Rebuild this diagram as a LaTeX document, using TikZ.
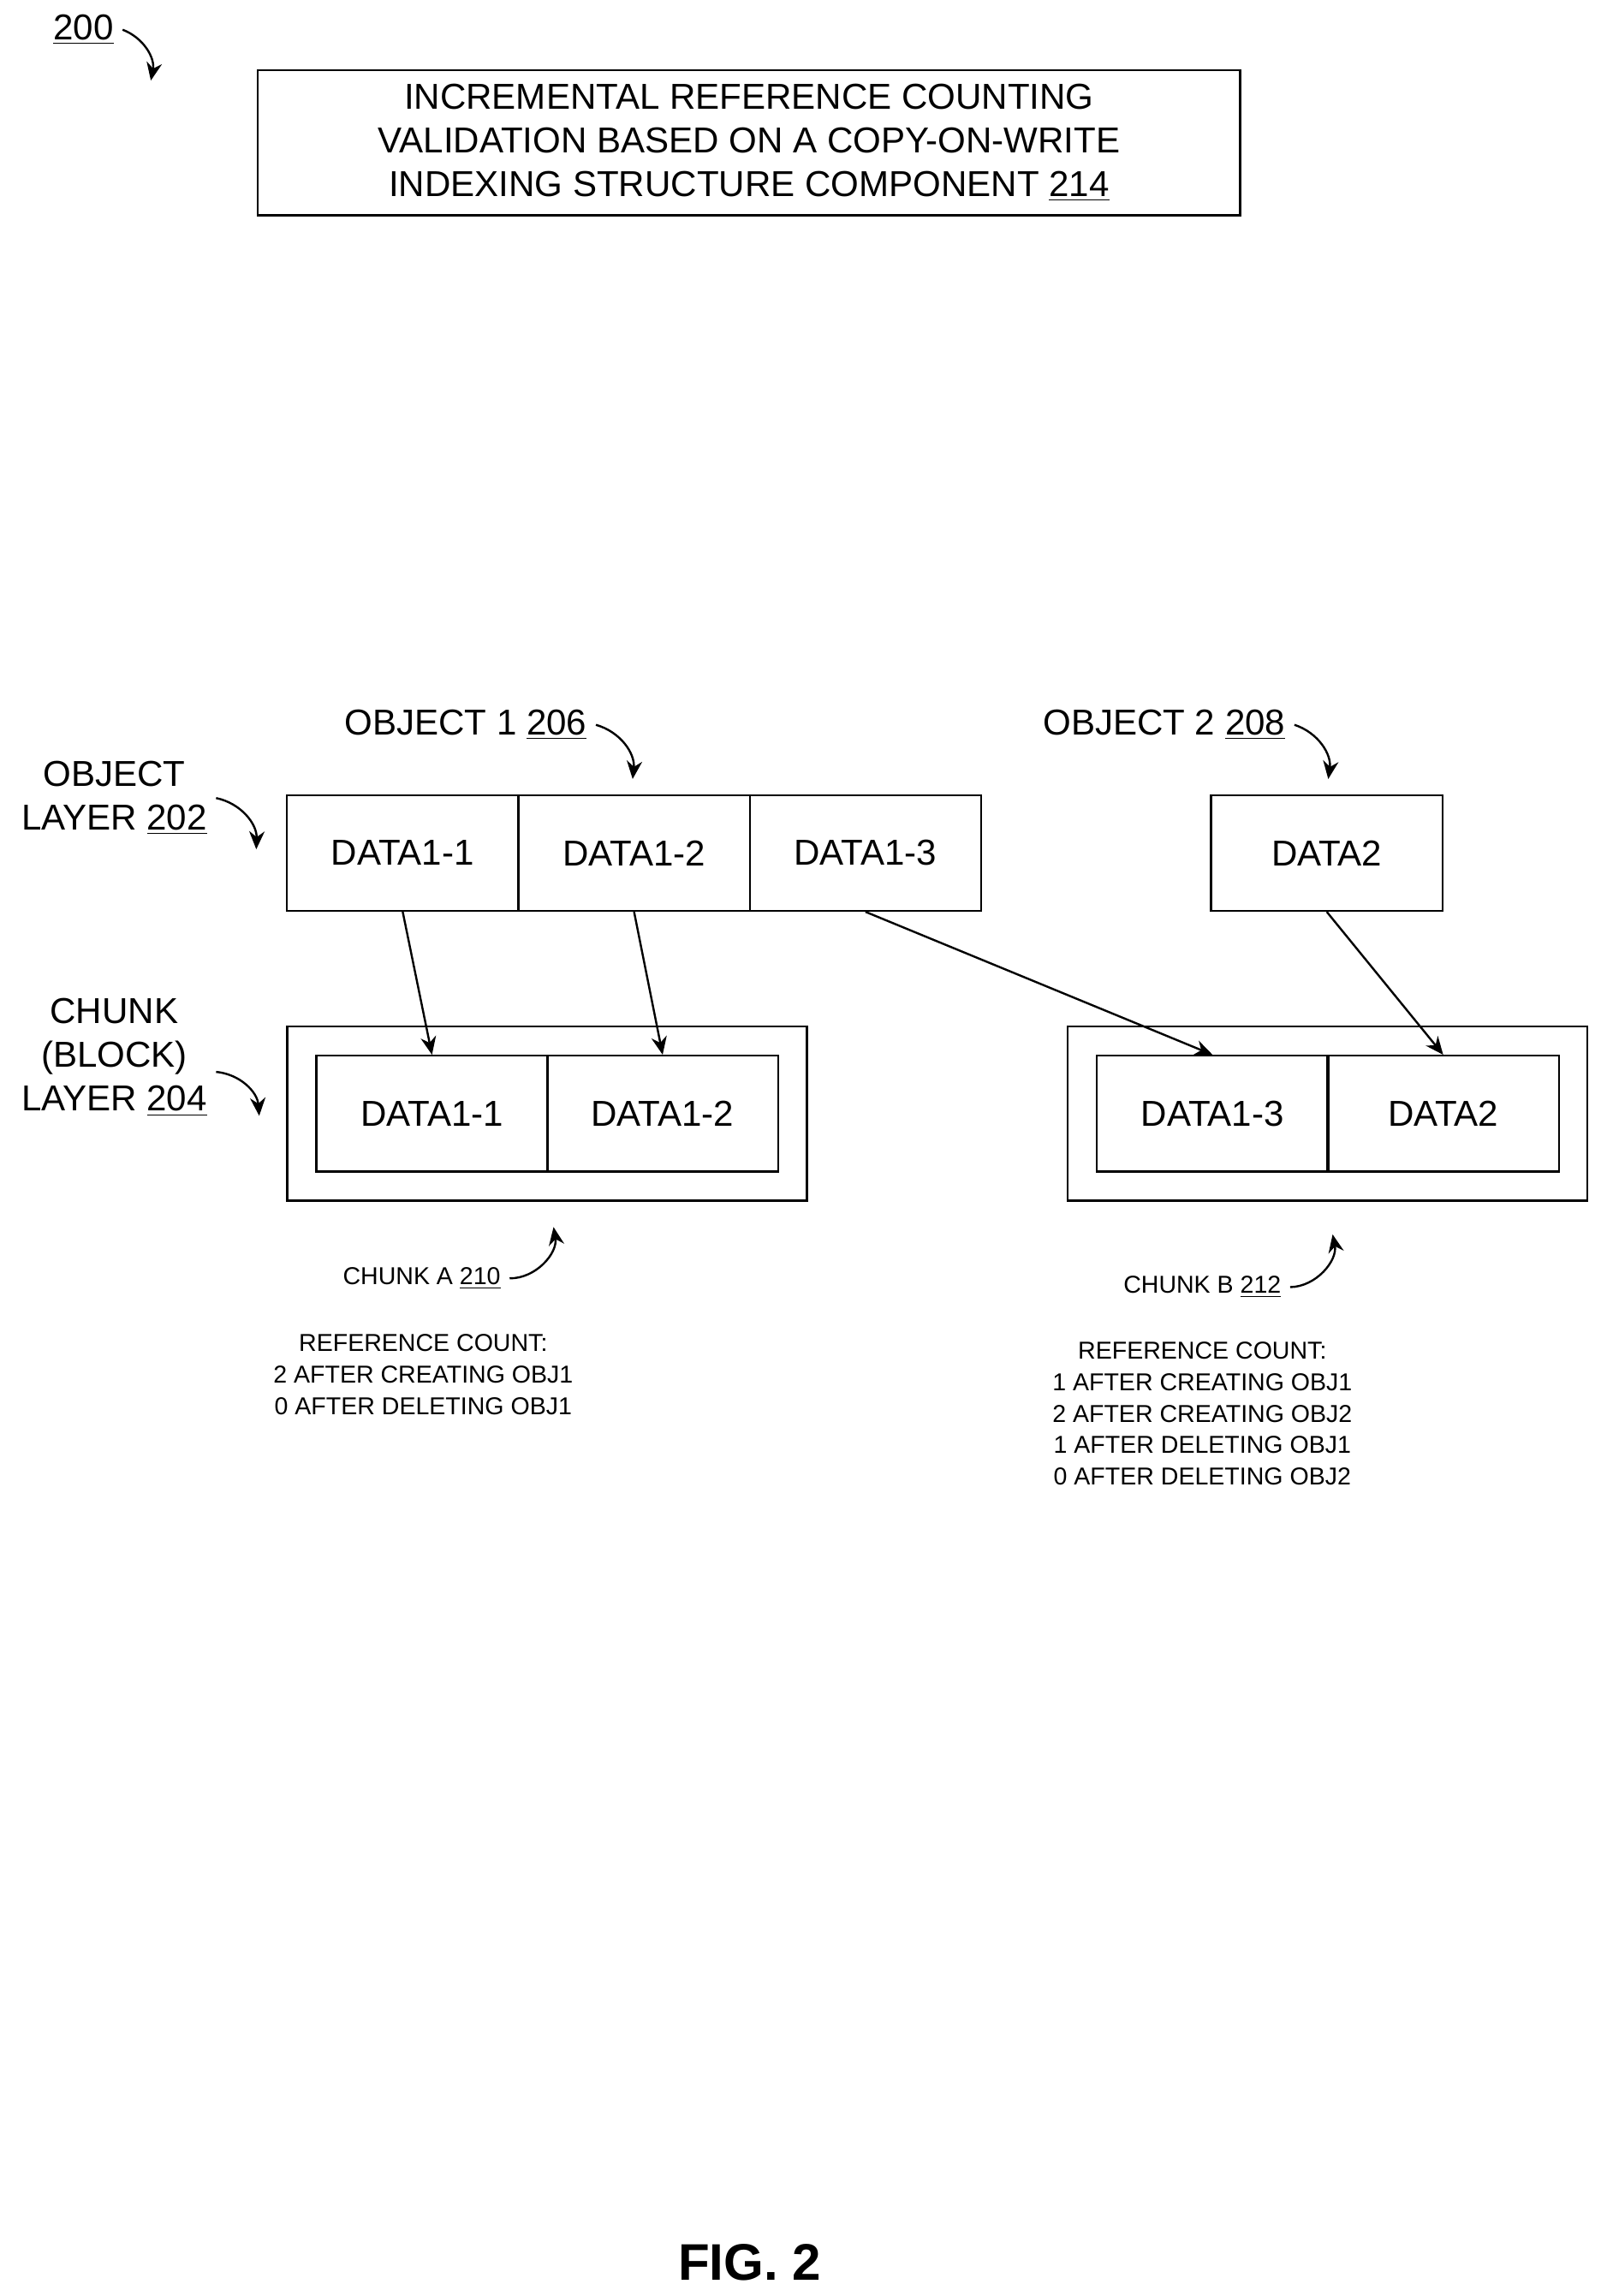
\documentclass[tikz,border=0pt]{standalone}
\usepackage{fontspec}
\setmainfont{Liberation Sans}
\usetikzlibrary{arrows.meta}
\begin{document}
\begin{tikzpicture}[x=0.02cm,y=-0.02cm,
  big/.style={font=\fontsize{14}{17}\selectfont},
  small/.style={font=\fontsize{9.5}{12.3}\selectfont, align=center},
  cell/.style={draw, big, minimum width=3.16cm, minimum height=1.58cm, inner sep=0pt, line width=0.8pt},
  ptr/.style={-{Stealth[length=7pt,width=6pt]}, line width=0.8pt},
  tag/.style={-{Stealth[length=7pt,width=6pt]}, line width=0.8pt}]
  \useasboundingbox (0,0) rectangle (1097,1568);

  % figure number
  \node[big, anchor=base] (fig) at (57,27) {\underline{200}};
  \coordinate (figend) at (103,55);
  \draw[tag] (fig.east) to[bend left=40] (figend);

  % title box
  \node[draw, big, align=center, minimum width=13.42cm, minimum height=1.98cm, line width=0.8pt] (title) at (511.5,97.5)
    {INCREMENTAL REFERENCE COUNTING\\VALIDATION BASED ON A COPY-ON-WRITE\\INDEXING STRUCTURE COMPONENT \underline{214}};

  % object layer
  \node[cell] (o11) at (275,582.5) {DATA1-1};
  \node[cell] (o12) at (433,582.5) {DATA1-2};
  \node[cell] (o13) at (591,582.5) {DATA1-3};
  \node[cell] (o2) at (906,582.5) {DATA2};

  % chunk layer
  \node[draw, line width=0.8pt, minimum width=7.1cm, minimum height=2.38cm] (ca) at (373.5,760.5) {};
  \node[draw, line width=0.8pt, minimum width=7.1cm, minimum height=2.38cm] (cb) at (906.5,760.5) {};
  \node[cell] (a1) at (295,760.5) {DATA1-1};
  \node[cell] (a2) at (452.5,760.5) {DATA1-2};
  \node[cell] (b1) at (828,760.5) {DATA1-3};
  \node[cell] (b2) at (985.5,760.5) {DATA2};

  % pointers
  \draw[ptr] (o11.south) -- (a1.north);
  \draw[ptr] (o12.south) -- (a2.north);
  \draw[ptr] (o13.south) -- (b1.north);
  \draw[ptr] (o2.south) -- (b2.north);

  % labels
  \node[big] (lo1) at (318,495) {OBJECT 1 \underline{206}};
  \draw[tag] (lo1.east) to[bend left=40] (432,532);
  \node[big] (lo2) at (795,495) {OBJECT 2 \underline{208}};
  \draw[tag] (lo2.east) to[bend left=40] (907,532);
  \node[big, align=center] (lol) at (78,545) {OBJECT\\LAYER \underline{202}};
  \draw[tag] (lol.east) to[bend left=40] (175,580);
  \node[big, align=center] (lcl) at (78,722) {CHUNK\\(BLOCK)\\LAYER \underline{204}};
  \draw[tag] ([yshift=-0.2cm]lcl.east) to[bend left=40] (177,762);

  \node[small] (lca) at (288,873) {CHUNK A \underline{210}};
  \draw[tag] (lca.east) to[bend right=50] (378,838);
  \node[small] (lcb) at (821,879) {CHUNK B \underline{212}};
  \draw[tag] (lcb.east) to[bend right=50] (910,843);

  \node[small, anchor=north] (ra) at (289,905) {REFERENCE COUNT:\\2 AFTER CREATING OBJ1\\0 AFTER DELETING OBJ1};
  \node[small, anchor=north] (rb) at (821,910) {REFERENCE COUNT:\\1 AFTER CREATING OBJ1\\2 AFTER CREATING OBJ2\\1 AFTER DELETING OBJ1\\0 AFTER DELETING OBJ2};

  \node[font=\fontsize{20}{24}\bfseries] (fig2) at (512,1545) {FIG. 2};
\end{tikzpicture}
\end{document}
